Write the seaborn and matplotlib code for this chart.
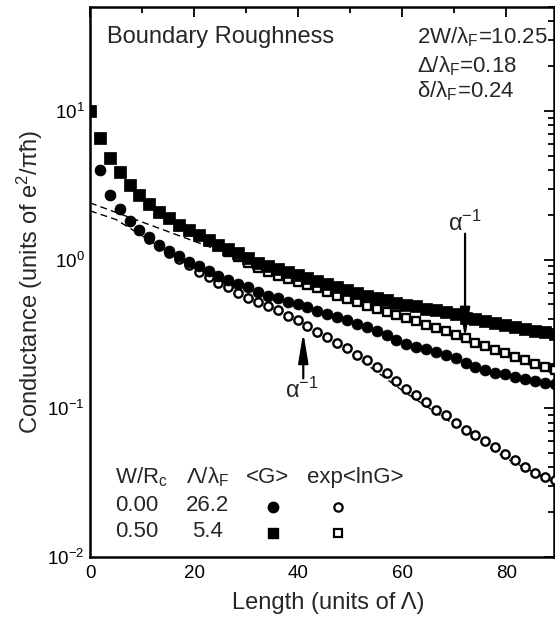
import numpy as np
import pandas as pd
import matplotlib
matplotlib.use('Agg')
import matplotlib.pyplot as plt
import seaborn as sns
from matplotlib.ticker import LogLocator, LogFormatterMathtext, MultipleLocator, NullFormatter

# ---------------- data ----------------
length = [0.0, 1.9, 3.8, 5.7, 7.6, 9.5, 11.4, 13.3, 15.2, 17.1, 19.0, 20.9,
          22.8, 24.7, 26.6, 28.5, 30.4, 32.3, 34.2, 36.1, 38.0, 39.9, 41.8, 43.7,
          45.6, 47.5, 49.4, 51.3, 53.2, 55.1, 57.0, 58.9, 60.8, 62.7, 64.6, 66.5,
          68.4, 70.3, 72.2, 74.1, 76.0, 77.9, 79.8, 81.7, 83.6, 85.5, 87.4, 89.3]

# W/Rc = 0.00 : <G> (filled circles) and exp<lnG> (open circles)
g_mean_w0 = [10.0, 4.02, 2.73, 2.20, 1.83, 1.59, 1.41, 1.26, 1.15, 1.05, 0.97, 0.90,
             0.84, 0.78, 0.73, 0.69, 0.65, 0.61, 0.57, 0.55, 0.52, 0.50, 0.48, 0.45,
             0.43, 0.41, 0.39, 0.37, 0.35, 0.33, 0.31, 0.29, 0.272, 0.259, 0.249, 0.238,
             0.229, 0.217, 0.203, 0.190, 0.182, 0.174, 0.169, 0.162, 0.157, 0.152, 0.148, 0.145]
g_typ_w0 = [10.0, 4.0, 2.71, 2.18, 1.81, 1.57, 1.38, 1.23, 1.11, 1.01, 0.925, 0.83,
            0.76, 0.70, 0.65, 0.60, 0.556, 0.52, 0.49, 0.455, 0.42, 0.39, 0.355, 0.324,
            0.30, 0.277, 0.253, 0.230, 0.210, 0.191, 0.172, 0.152, 0.134, 0.122, 0.110, 0.098,
            0.090, 0.080, 0.072, 0.066, 0.060, 0.055, 0.049, 0.0448, 0.0402, 0.0366, 0.0344, 0.0329]

# W/Rc = 0.50 : <G> (filled squares) and exp<lnG> (open squares)
g_mean_w05 = [10.0, 6.59, 4.84, 3.90, 3.19, 2.73, 2.38, 2.10, 1.91, 1.72, 1.59, 1.47,
              1.36, 1.26, 1.17, 1.10, 1.02, 0.955, 0.911, 0.87, 0.83, 0.79, 0.757, 0.723,
              0.69, 0.659, 0.629, 0.60, 0.573, 0.556, 0.531, 0.514, 0.499, 0.484, 0.469, 0.455,
              0.441, 0.428, 0.408, 0.396, 0.384, 0.372, 0.361, 0.35, 0.339, 0.329, 0.324, 0.314]
g_typ_w05 = [10.0, 6.55, 4.80, 3.87, 3.16, 2.70, 2.35, 2.07, 1.88, 1.69, 1.56, 1.44,
             1.33, 1.23, 1.13, 1.04, 0.95, 0.88, 0.83, 0.78, 0.745, 0.711, 0.68, 0.649,
             0.61, 0.573, 0.547, 0.522, 0.491, 0.462, 0.445, 0.423, 0.402, 0.384, 0.366, 0.349,
             0.329, 0.309, 0.295, 0.277, 0.261, 0.245, 0.234, 0.22, 0.21, 0.20, 0.191, 0.18]

# dashed fit curves
fit_w05_len = [0.0, 89.3]
fit_w05 = [2.41, 0.17]
fit_w0_len = [0.0, 5.0, 10.0, 20.0, 30.0, 40.0, 50.0, 60.0, 70.0, 80.0, 89.3]
fit_w0 = [2.13, 1.86, 1.45, 0.87, 0.547, 0.372, 0.238, 0.132, 0.078, 0.046, 0.0317]

# legend table
table_header = ['W/$R_c$', 'Λ/$λ_F$', '<G>', 'exp<lnG>']
table_wrc = ['0.00', '0.50']
table_lam = ['26.2', '5.4']

# ---------------- style ----------------
sns.set_style('white')
plt.rcParams['font.family'] = ['Liberation Sans', 'DejaVu Sans']
plt.rcParams['mathtext.fontset'] = 'custom'
plt.rcParams['mathtext.rm'] = 'Liberation Sans'
plt.rcParams['mathtext.it'] = 'Liberation Sans:italic'
plt.rcParams['mathtext.bf'] = 'Liberation Sans:bold'
plt.rcParams['mathtext.default'] = 'regular'

fig = plt.figure(figsize=(5.55, 6.17), dpi=100)
ax = fig.add_axes([90 / 555, 60 / 617, 464 / 555, 550 / 617])

df = pd.DataFrame({'L': length, 'mean0': g_mean_w0, 'typ0': g_typ_w0,
                   'mean05': g_mean_w05, 'typ05': g_typ_w05})

dash = (0, (5, 3))
sns.lineplot(x=fit_w05_len, y=fit_w05, ax=ax, color='black', lw=1.0, linestyle=dash)
sns.lineplot(x=fit_w0_len, y=fit_w0, ax=ax, color='black', lw=1.0, linestyle=dash)
for line in ax.lines:
    line.set_linestyle(dash)

sns.scatterplot(data=df, x='L', y='typ0', ax=ax, marker='o', s=36,
                facecolor='white', edgecolor='black', linewidth=1.7, zorder=3)
sns.scatterplot(data=df, x='L', y='typ05', ax=ax, marker='s', s=36,
                facecolor='white', edgecolor='black', linewidth=1.7, zorder=3)
sns.scatterplot(data=df, x='L', y='mean0', ax=ax, marker='o', s=62,
                color='black', edgecolor='black', linewidth=0.5, zorder=4)
sns.scatterplot(data=df, x='L', y='mean05', ax=ax, marker='s', s=68,
                color='black', edgecolor='black', linewidth=0.5, zorder=4)

ax.set_yscale('log')
ax.set_xlim(0, 89.2)
ax.set_ylim(0.01, 50)
ax.xaxis.set_major_locator(MultipleLocator(20))
ax.xaxis.set_minor_locator(MultipleLocator(10))
ax.yaxis.set_major_locator(LogLocator(base=10, numticks=10))
ax.yaxis.set_minor_locator(LogLocator(base=10, subs=np.arange(2, 10), numticks=10))
ax.yaxis.set_major_formatter(LogFormatterMathtext())
ax.yaxis.set_minor_formatter(NullFormatter())
ax.tick_params(which='both', direction='in', top=True, right=True, width=1.3,
               labelsize=13.5, colors='black')
ax.tick_params(which='major', length=7)
ax.tick_params(which='minor', length=4)
ax.tick_params(axis='x', which='both', pad=6)
ax.tick_params(axis='y', which='both', pad=4)
for s in ax.spines.values():
    s.set_linewidth(1.8)
    s.set_color('black')

ax.set_xlabel('Length (units of Λ)', fontsize=17)
ax.set_ylabel('Conductance (units of $e^2/πħ$)', fontsize=17)
ax.xaxis.set_label_coords(0.513, -0.064)
ax.yaxis.set_label_coords(-0.096, 0.5)

# annotations
ax.text(0.0366, 0.9345, 'Boundary Roughness', transform=ax.transAxes,
        fontsize=17, ha='left', va='baseline')
for txt, yy in zip(['2W/$λ_F$=10.25', 'Δ/$λ_F$=0.18', 'δ/$λ_F$=0.24'],
                   [0.9345, 0.881, 0.8364]):
    ax.text(0.7047, yy, txt, transform=ax.transAxes, fontsize=16,
            ha='left', va='baseline')

arrow_kw = dict(arrowstyle='-|>,head_length=0.9,head_width=0.15', color='black',
                lw=1.6, mutation_scale=20, shrinkA=0, shrinkB=0)
ax.annotate('', xy=(72.1, 0.295), xytext=(72.1, 1.494), arrowprops=arrow_kw)
ax.text(72.0, 1.566, '$α^{-1}$', fontsize=17, ha='center', va='baseline')
ax.annotate('', xy=(41.0, 0.324), xytext=(41.0, 0.159), arrowprops=arrow_kw)
ax.text(40.8, 0.1167, '$α^{-1}$', fontsize=17, ha='center', va='baseline')

# legend table
hy, r1, r2 = 0.1345, 0.0836, 0.0364
ax.text(0.0539, hy, table_header[0], transform=ax.transAxes, fontsize=16, ha='left', va='baseline')
ax.text(0.2543, hy, table_header[1], transform=ax.transAxes, fontsize=16, ha='center', va='baseline')
ax.text(0.3815, hy, table_header[2], transform=ax.transAxes, fontsize=16, ha='center', va='baseline')
ax.text(0.571, hy, table_header[3], transform=ax.transAxes, fontsize=16, ha='center', va='baseline')
for ry, w, lam in zip([r1, r2], table_wrc, table_lam):
    ax.text(0.0539, ry, w, transform=ax.transAxes, fontsize=16, ha='left', va='baseline')
    ax.text(0.2543, ry, lam, transform=ax.transAxes, fontsize=16, ha='center', va='baseline')
ax.plot([0.3944], [0.0909], 'o', transform=ax.transAxes, color='black', ms=7.5, clip_on=False)
ax.plot([0.3944], [0.0436], 's', transform=ax.transAxes, color='black', ms=7.5, clip_on=False)
ax.plot([0.5345], [0.0909], 'o', transform=ax.transAxes, mfc='white', mec='black', mew=1.6, ms=6, clip_on=False)
ax.plot([0.5345], [0.0436], 's', transform=ax.transAxes, mfc='white', mec='black', mew=1.6, ms=6, clip_on=False)

fig.savefig('out.png', dpi=100)
